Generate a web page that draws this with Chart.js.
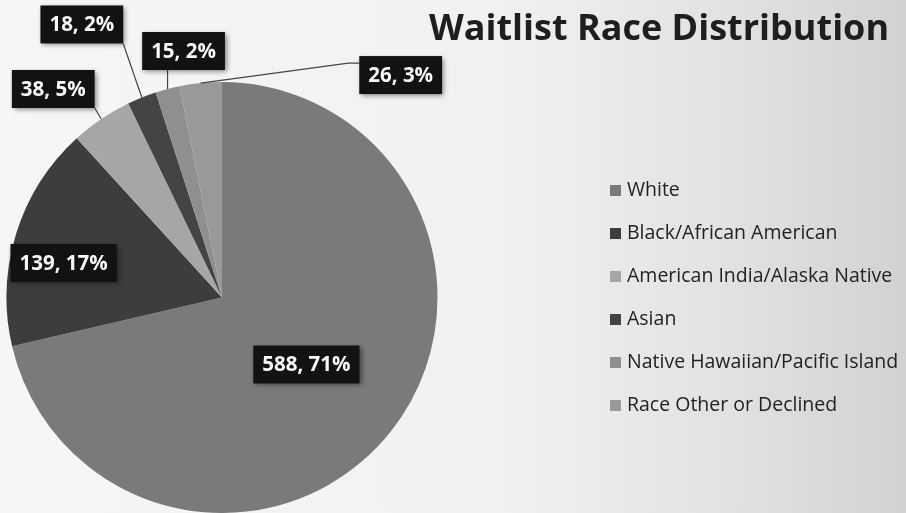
<!DOCTYPE html>
<html>
<head>
<meta charset="utf-8">
<script src="https://cdn.jsdelivr.net/npm/chart.js@4.4.1/dist/chart.umd.min.js"></script>
<style>
  html, body { margin: 0; padding: 0; }
  body {
    width: 906px; height: 513px; overflow: hidden;
    background: linear-gradient(90deg, #f6f6f6 0%, #f1f1f1 55%, #e2e2e2 80%, #d2d2d2 100%);
  }
</style>
</head>
<body>
<canvas id="race-chart" width="906" height="513"></canvas>
<script>
const labels = ['White', 'Black/African American', 'American India/Alaska Native', 'Asian', 'Native Hawaiian/Pacific Island', 'Race Other or Declined'];
const counts = [588, 139, 38, 18, 15, 26];
const percents = [71, 17, 5, 2, 2, 3];
const title = 'Waitlist Race Distribution';

const colors = ['#7a7a7a', '#3d3d3d', '#a6a6a6', '#444444', '#8f8f8f', '#999999'];

// where each value box sits: r = fraction of radius along the slice's middle, then a nudge
const labelPlace = [
  { r: 0.5, dx: 0, dy: 0 },
  { r: 0.76, dx: -2, dy: 14 },
  { r: 1, dx: -48, dy: -30 },
  { r: 1, dx: -60, dy: -73 },
  { r: 1, dx: 16, dy: -38 },
  { r: 1, dx: 200, dy: -8 }
];

const FONT = '"Open Sans", "Noto Sans", sans-serif';

const decorations = {
  id: 'decorations',
  afterDraw(chart) {
    const ctx = chart.ctx;
    const arcs = chart.getDatasetMeta(0).data;

    // title
    ctx.save();
    ctx.fillStyle = '#1e1e1e';
    ctx.font = 'bold 36px ' + FONT;
    ctx.textAlign = 'center';
    ctx.textBaseline = 'middle';
    ctx.fillText(title, 659, 30);
    ctx.restore();

    // legend
    ctx.save();
    ctx.font = '19.5px ' + FONT;
    ctx.textBaseline = 'middle';
    labels.forEach((lab, i) => {
      const y = 190 + i * 43;
      ctx.fillStyle = colors[i];
      ctx.fillRect(610, y - 5, 11, 11);
      ctx.fillStyle = '#222';
      ctx.fillText(lab, 627, y);
    });
    ctx.restore();

    // value boxes
    arcs.forEach((arc, i) => {
      const mid = (arc.startAngle + arc.endAngle) / 2;
      const R = arc.outerRadius;
      const p = labelPlace[i];
      const cx = arc.x + Math.cos(mid) * R * p.r + p.dx;
      const cy = arc.y + Math.sin(mid) * R * p.r + p.dy;
      const text = counts[i] + ', ' + percents[i] + '%';

      ctx.save();
      ctx.font = 'bold 20.5px ' + FONT;
      const w = ctx.measureText(text).width + 18;
      const h = 38;
      const bx = cx - w / 2, by = cy - h / 2;

      if (p.r >= 1) {
        const ax = arc.x + Math.cos(mid) * R;
        const ay = arc.y + Math.sin(mid) * R;
        let nx = Math.min(Math.max(ax, bx), bx + w);
        let ny = Math.min(Math.max(ay, by), by + h);
        ctx.strokeStyle = '#444';
        ctx.lineWidth = 1.2;
        ctx.beginPath();
        ctx.moveTo(ax, ay);
        if (nx === bx && ny > by + 10) {
          // elbow: rise to the upper part of the box, then run in flat
          ctx.lineTo(bx - 11, by + 7);
          ny = by + 7;
        }
        ctx.lineTo(nx, ny);
        ctx.stroke();
      }

      ctx.shadowColor = 'rgba(0,0,0,0.45)';
      ctx.shadowBlur = 5;
      ctx.shadowOffsetX = 2;
      ctx.shadowOffsetY = 2;
      ctx.fillStyle = '#121212';
      ctx.fillRect(bx, by, w, h);
      ctx.shadowColor = 'transparent';
      ctx.fillStyle = '#fafafa';
      ctx.textAlign = 'center';
      ctx.textBaseline = 'middle';
      ctx.fillText(text, cx, cy + 1);
      ctx.restore();
    });
  }
};

new Chart(document.getElementById('race-chart'), {
  type: 'pie',
  data: {
    labels: labels,
    datasets: [{
      data: counts,
      backgroundColor: colors,
      borderWidth: 0
    }]
  },
  options: {
    responsive: false,
    animation: false,
    devicePixelRatio: 1,
    layout: { padding: { left: 6, top: 82, right: 468, bottom: 0 } },
    plugins: {
      legend: { display: false },
      tooltip: { enabled: false }
    }
  },
  plugins: [decorations]
});
</script>
</body>
</html>
